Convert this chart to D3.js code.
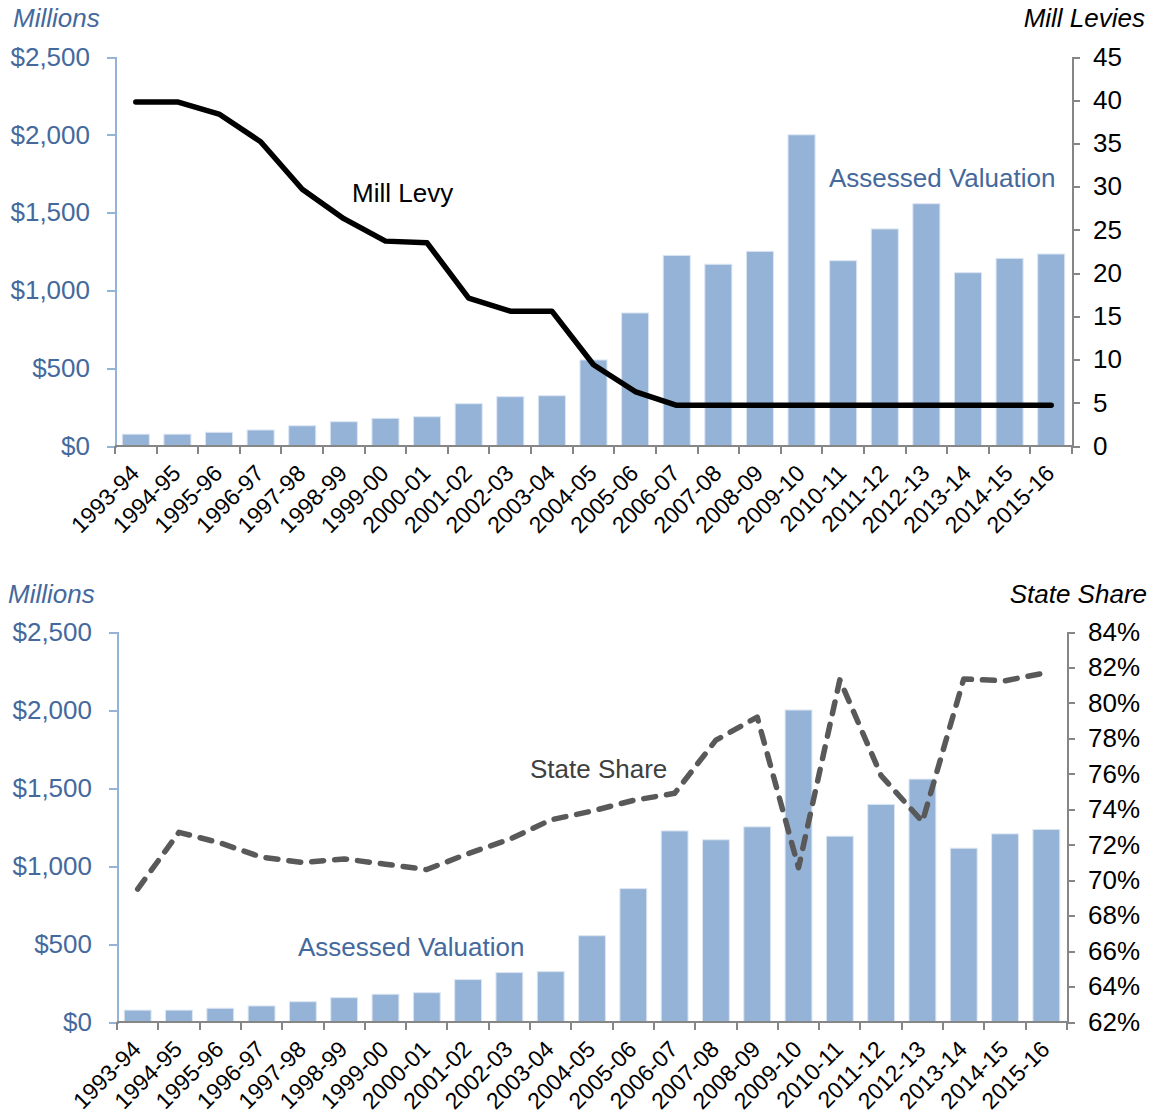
<!DOCTYPE html>
<html lang="en">
<head>
  <meta charset="UTF-8">
  <title>Assessed Valuation, Mill Levy and State Share</title>
  <style>
    body { margin: 0; background: #fff; }
    svg { display: block; font-family: 'Liberation Sans', Arial, sans-serif; }
    .axis path, .axis line { shape-rendering: crispEdges; }
  </style>
</head>
<body>
  <svg id="svg" width="1153" height="1118"></svg>
  <script src="https://d3js.org/d3.v7.min.js"></script>
  <script>
    // values
    const years = ['1993-94', '1994-95', '1995-96', '1996-97', '1997-98', '1998-99', '1999-00',
      '2000-01', '2001-02', '2002-03', '2003-04', '2004-05', '2005-06', '2006-07', '2007-08',
      '2008-09', '2009-10', '2010-11', '2011-12', '2012-13', '2013-14', '2014-15', '2015-16']
    // assessed valuation, $ millions
    const assessedValuation = [76, 76, 88, 103, 130, 156, 178, 188, 272, 317, 323, 553, 855,
      1225, 1168, 1251, 2000, 1191, 1395, 1557, 1114, 1206, 1234]
    // mill levies
    const millLevy = [39.8, 39.8, 38.4, 35.2, 29.7, 26.3, 23.7, 23.5, 17.1, 15.6, 15.6, 9.4,
      6.3, 4.7, 4.7, 4.7, 4.7, 4.7, 4.7, 4.7, 4.7, 4.7, 4.7]
    // state share, percent
    const stateShare = [69.5, 72.7, 72.1, 71.3, 71.0, 71.2, 70.9, 70.6, 71.5, 72.3, 73.4, 73.9,
      74.5, 74.9, 77.9, 79.2, 70.7, 81.3, 75.9, 73.3, 81.35, 81.25, 81.7]

    const dollarTicks = [0, 500, 1000, 1500, 2000, 2500]
    const millTicks = [0, 5, 10, 15, 20, 25, 30, 35, 40, 45]
    const shareTicks = [62, 64, 66, 68, 70, 72, 74, 76, 78, 80, 82, 84]

    const blue = '#44699c'
    const barFill = '#95b3d7'
    const axisBlue = '#95b3d7'
    const axisGray = '#868686'

    const svg = d3.select('#svg')
    const dollar = d => '$' + d3.format(',')(d)

    function drawPanel(opt) {
      const g = svg.append('g')

      const x = d3.scaleBand()
        .domain(years)
        .range([opt.left, opt.right])
        .paddingInner(0.35)
        .paddingOuter(0.175)

      const yL = d3.scaleLinear().domain([0, 2500]).range([opt.bottom, opt.top])
      const yR = d3.scaleLinear().domain(opt.rightDomain).range([opt.bottom, opt.top])

      // bars
      g.selectAll('rect.bar')
        .data(years)
        .join('rect')
        .attr('class', 'bar')
        .attr('x', d => x(d))
        .attr('width', x.bandwidth())
        .attr('y', (d, i) => yL(assessedValuation[i]))
        .attr('height', (d, i) => opt.bottom - yL(assessedValuation[i]))
        .attr('fill', barFill)
        .attr('stroke', '#dce6f2')
        .attr('stroke-width', 1)

      // left axis
      const left = g.append('g')
        .attr('class', 'axis')
        .attr('transform', `translate(${opt.left},0)`)
        .call(d3.axisLeft(yL).tickValues(dollarTicks).tickFormat(dollar)
          .tickSizeInner(8).tickSizeOuter(8).tickPadding(17))
      left.selectAll('path, line').attr('stroke', axisBlue).attr('stroke-width', 2)
      left.selectAll('text').attr('fill', blue).attr('font-size', 26)
        .attr('font-family', 'Liberation Sans, Arial, sans-serif')

      // right axis
      const right = g.append('g')
        .attr('class', 'axis')
        .attr('transform', `translate(${opt.right},0)`)
        .call(d3.axisRight(yR).tickValues(opt.rightTicks).tickFormat(opt.rightFormat)
          .tickSizeInner(8).tickSizeOuter(8).tickPadding(13))
      right.selectAll('path, line').attr('stroke', axisGray).attr('stroke-width', 2)
      right.selectAll('text').attr('fill', '#000').attr('font-size', 26)
        .attr('font-family', 'Liberation Sans, Arial, sans-serif')

      // x axis: ticks at category boundaries
      const xa = g.append('g').attr('class', 'axis')
      xa.append('line')
        .attr('x1', opt.left).attr('x2', opt.right)
        .attr('y1', opt.bottom).attr('y2', opt.bottom)
        .attr('stroke', axisGray).attr('stroke-width', 2)
      const bounds = d3.range(years.length + 1).map(i => opt.left + i * x.step())
      xa.selectAll('line.tick')
        .data(bounds)
        .join('line')
        .attr('class', 'tick')
        .attr('x1', d => d).attr('x2', d => d)
        .attr('y1', opt.bottom).attr('y2', opt.bottom + 8)
        .attr('stroke', axisGray).attr('stroke-width', 2)
      xa.selectAll('text')
        .data(years)
        .join('text')
        .attr('transform', d => `translate(${x(d) + x.bandwidth() / 2 - 1},${opt.bottom + 23}) rotate(-45)`)
        .attr('text-anchor', 'end')
        .attr('dy', '0.35em')
        .attr('font-size', 23)
        .attr('fill', '#000')
        .text(d => d)

      // line series
      const line = d3.line()
        .x((d, i) => x(years[i]) + x.bandwidth() / 2)
        .y(d => yR(d))
      g.append('path')
        .datum(opt.lineData)
        .attr('d', line)
        .attr('fill', 'none')
        .attr('stroke', opt.lineColor)
        .attr('stroke-width', 5.5)
        .attr('stroke-linecap', 'round')
        .attr('stroke-linejoin', 'round')
        .attr('stroke-dasharray', opt.dash)

      // axis titles
      g.append('text')
        .attr('x', opt.titleLeftX).attr('y', opt.titleY)
        .attr('font-size', 26).attr('font-style', 'italic').attr('fill', blue)
        .text('Millions')
      g.append('text')
        .attr('x', opt.titleRightX).attr('y', opt.titleY)
        .attr('text-anchor', 'end')
        .attr('font-size', 26).attr('font-style', 'italic').attr('fill', '#000')
        .text(opt.rightTitle)

      // series labels
      g.append('text')
        .attr('x', opt.avLabel[0]).attr('y', opt.avLabel[1])
        .attr('font-size', 26).attr('fill', blue)
        .text('Assessed Valuation')
      g.append('text')
        .attr('x', opt.lineLabel[0]).attr('y', opt.lineLabel[1])
        .attr('font-size', 26).attr('fill', opt.lineLabelColor)
        .text(opt.lineLabelText)
    }

    drawPanel({
      left: 115, right: 1072, top: 57, bottom: 446,
      rightDomain: [0, 45], rightTicks: millTicks, rightFormat: d3.format('d'),
      lineData: millLevy, lineColor: '#000', dash: null,
      titleLeftX: 13, titleRightX: 1145, titleY: 27, rightTitle: 'Mill Levies',
      avLabel: [829, 187], lineLabel: [352, 202], lineLabelText: 'Mill Levy', lineLabelColor: '#000'
    })

    drawPanel({
      left: 117, right: 1067, top: 632, bottom: 1022,
      rightDomain: [62, 84], rightTicks: shareTicks, rightFormat: d => d + '%',
      lineData: stateShare, lineColor: '#595959', dash: '12,11',
      titleLeftX: 8, titleRightX: 1147, titleY: 603, rightTitle: 'State Share',
      avLabel: [298, 956], lineLabel: [530, 778], lineLabelText: 'State Share', lineLabelColor: '#404040'
    })
  </script>
</body>
</html>
